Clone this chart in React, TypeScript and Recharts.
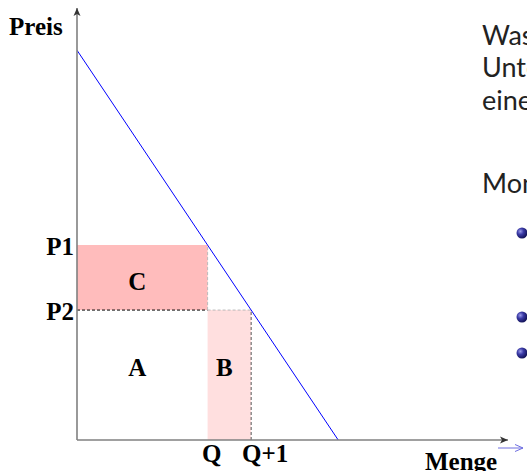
import React from "react";
import { ComposedChart, Line, XAxis, YAxis, ReferenceArea, ReferenceLine, Label } from "recharts";

// demand curve end points
const quantity = [0, 6];
const price = [6, 0];

const qtyTicks = [3, 4];
const qtyTickLabels = ["Q", "Q+1"];
const priceTicks = [2, 3];
const priceTickLabels = ["P2", "P1"];

// rectangles A, B, C
const areaNames = ["C", "A", "B"];
const areaX1 = [0, 0, 3];
const areaX2 = [3, 3, 4];
const areaY1 = [2, 0, 0];
const areaY2 = [3, 2, 2];
const areaFills = ["#ffbcbc", "none", "#ffdfdf"];

const xMax = 9.9;
const yMax = 6.65;

const slideLines = ["Was passiert, wenn ein", "Unternehmen", "einen", "Monopolist"];

const demand = quantity.map((q, i) => ({ q, p: price[i] }));

const serif = "'Liberation Serif', 'Times New Roman', serif";
const sans = "Lato, 'DejaVu Sans', sans-serif";

const XTick = (props: any) => {
  const { x, y, payload } = props;
  const i = qtyTicks.indexOf(payload.value);
  const dx = [4, 14][i];
  return (
    <text x={x + dx} y={y + 22} textAnchor="middle" fontFamily={serif} fontWeight="bold" fontSize={25} fill="#000">
      {qtyTickLabels[i]}
    </text>
  );
};

const YTick = (props: any) => {
  const { x, y, payload } = props;
  const i = priceTicks.indexOf(payload.value);
  return (
    <text x={x - 3} y={y + 10} textAnchor="end" fontFamily={serif} fontWeight="bold" fontSize={25} fill="#000">
      {priceTickLabels[i]}
    </text>
  );
};

export default function App() {
  const [P2, P1] = priceTicks;
  const [Q, Q1] = qtyTicks;
  return (
    <div style={{ position: "absolute", left: 0, top: 0, width: 527, height: 471, overflow: "hidden", background: "#fff" }}>
      <ComposedChart width={527} height={471} data={demand} margin={{ top: 8, right: 19, bottom: 0, left: 17 }}>
        <defs>
          <marker id="ax" viewBox="0 0 8 8" refX="8" refY="4" markerWidth="8" markerHeight="8" markerUnits="userSpaceOnUse" orient="auto-start-reverse">
            <path d="M0,0.5 L8,4 L0,7.5 L2,4 z" fill="#333" />
          </marker>
        </defs>
        {areaNames.map((n, i) => (
          <ReferenceArea key={n} x1={areaX1[i]} x2={areaX2[i]} y1={areaY1[i]} y2={areaY2[i]} fill={areaFills[i]} fillOpacity={1} stroke="none" ifOverflow="visible">
            <Label value={n} position="center" dx={-5} dy={n === "C" ? 4 : -8} fontFamily={serif} fontWeight="bold" fontSize={25} fill="#000" />
          </ReferenceArea>
        ))}
        <ReferenceLine segment={[{ x: 0, y: P2 }, { x: Q, y: P2 }]} stroke="#000" strokeDasharray="3 2" />
        <ReferenceLine segment={[{ x: Q, y: P2 }, { x: Q1, y: P2 }]} stroke="#bbb" strokeDasharray="3 2" />
        <ReferenceLine segment={[{ x: Q, y: P2 }, { x: Q, y: P1 }]} stroke="#bbb" strokeDasharray="3 2" />
        <ReferenceLine segment={[{ x: Q1, y: 0 }, { x: Q1, y: P2 }]} stroke="#555" strokeDasharray="3 2" />
        <XAxis
          dataKey="q"
          type="number"
          domain={[0, xMax]}
          ticks={qtyTicks}
          tick={<XTick />}
          tickLine={false}
          tickSize={0}
          tickMargin={0}
          height={31}
          allowDataOverflow
          axisLine={{ stroke: "#808080", strokeWidth: 1.6, markerEnd: "url(#ax)" }}
        />
        <YAxis
          type="number"
          domain={[0, yMax]}
          ticks={priceTicks}
          tick={<YTick />}
          tickLine={false}
          tickSize={0}
          tickMargin={0}
          width={60}
          allowDataOverflow
          axisLine={{ stroke: "#808080", strokeWidth: 1.6, markerStart: "url(#ax)" }}
        />
        <Line dataKey="p" type="linear" stroke="#0000ff" strokeWidth={1} dot={false} isAnimationActive={false} />
      </ComposedChart>
      <svg width={527} height={471} style={{ position: "absolute", left: 0, top: 0, pointerEvents: "none" }}>
        <defs>
          <radialGradient id="ball" cx="35%" cy="35%" r="65%">
            <stop offset="0%" stopColor="#9a9ae8" />
            <stop offset="45%" stopColor="#3a3aa6" />
            <stop offset="100%" stopColor="#14145a" />
          </radialGradient>
          <marker id="nav" viewBox="0 0 8 8" refX="8" refY="4" markerWidth="8" markerHeight="8" markerUnits="userSpaceOnUse" orient="auto">
            <path d="M0,0.5 L8,4 L0,7.5" fill="none" stroke="#6e6ee0" strokeWidth="1" />
          </marker>
        </defs>
        <text x={9} y={35} fontFamily={serif} fontWeight="bold" fontSize={25} fill="#000">Preis</text>
        <text x={425} y={470} fontFamily={serif} fontWeight="bold" fontSize={25} fill="#000">Menge</text>
        <line x1={498} y1={448} x2={523} y2={448} stroke="#6e6ee0" strokeWidth={1} markerEnd="url(#nav)" />
        {slideLines.map((t, i) => (
          <text key={t} x={482} y={[45, 77, 110, 193][i]} fontFamily={sans} fontSize={27} fill="#222">{t}</text>
        ))}
        {[233, 317, 353].map((cy) => (
          <circle key={cy} cx={522} cy={cy} r={5.5} fill="url(#ball)" />
        ))}
      </svg>
    </div>
  );
}
